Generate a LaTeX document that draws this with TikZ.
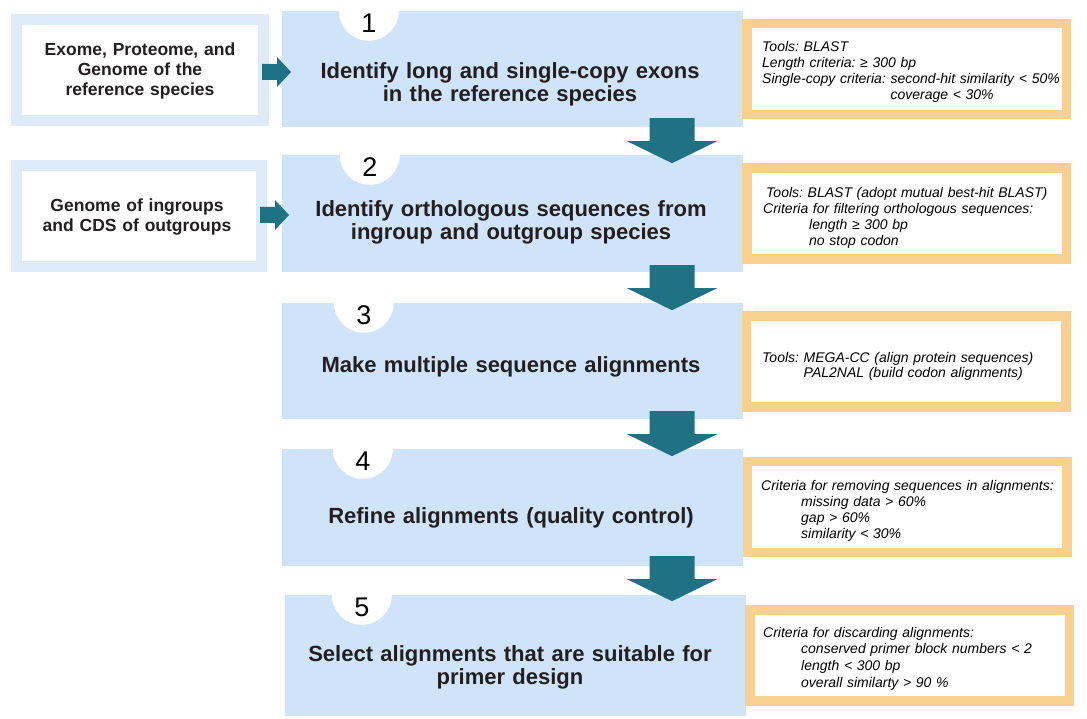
\documentclass[tikz,border=0pt]{standalone}
\usepackage{fontspec}
\setmainfont{Liberation Sans}
\usetikzlibrary{calc}
\frenchspacing
\definecolor{mainblue}{RGB}{207,228,248}
\definecolor{lightborder}{RGB}{222,235,248}
\definecolor{orangeb}{RGB}{248,208,143}
\definecolor{tealc}{RGB}{30,114,132}
\definecolor{txt}{RGB}{35,31,32}
\newcommand\dnarr[1]{\fill[tealc] (#1) ++(-22.5,0) -- ++(45,0) -- ++(0,23) -- ++(22.5,0) -- ++(-45,22) -- ++(-45,-22) -- ++(22.5,0) -- cycle;}
\newcommand\rtarr[1]{\fill[tealc] (#1) ++(0,-8) -- ++(15,0) -- ++(0,-7) -- ++(14,15) -- ++(-14,15) -- ++(0,-7) -- ++(-15,0) -- cycle;}
\begin{document}
\begin{tikzpicture}[x=1pt,y=-1pt,
  stepbox/.style={fill=mainblue, inner sep=0pt, minimum width=461pt, minimum height=#1},
  toolbox/.style={draw=orangeb, line width=9.5pt, fill=white, inner sep=0pt, minimum width=319.5pt, minimum height=91pt},
  srcbox/.style={draw=lightborder, line width=11pt, fill=white, inner sep=0pt, minimum width=#1, minimum height=101pt},
  steptext/.style={text=txt, font=\fontsize{22}{23}\selectfont\bfseries, text width=450pt, align=center, inner sep=0pt, anchor=base},
  numtext/.style={font=\fontsize{27}{30}\selectfont, inner sep=0pt, anchor=base, text=black},
  tooltext/.style={font=\fontsize{14}{#1}\selectfont\itshape, text width=320pt, align=left, inner sep=0pt, anchor=base west, text=black},
  srctext/.style={font=\fontsize{17.5}{20}\selectfont\bfseries, text width=240pt, align=center, inner sep=0pt, anchor=base, text=txt}
]
\fill[white] (0,0) rectangle (1087,719);
\useasboundingbox (0,0) rectangle (1087,719);

% main step boxes
\node[stepbox=116pt] (b1) at (512.5,69) {};
\node[stepbox=117pt] (b2) at (512.5,213.5) {};
\node[stepbox=116pt] (b3) at (512.5,361) {};
\node[stepbox=117pt] (b4) at (512.5,507.5) {};
\node[stepbox=121pt] (b5) at (515.5,655.5) {};

% number circles
\foreach \b/\dx in {b1/87,b2/88,b3/82,b4/81,b5/77}{
  \begin{scope}
    \clip (\b.north west) rectangle (\b.south east);
    \fill[white] ($(\b.north west)+(\dx,0)$) circle (30pt);
  \end{scope}
}
\node[numtext] (n1) at ($(b1.north west)+(87,22)$) {1};
\node[numtext] (n2) at ($(b2.north west)+(88,22)$) {2};
\node[numtext] (n3) at ($(b3.north west)+(82,22)$) {3};
\node[numtext] (n4) at ($(b4.north west)+(81,22)$) {4};
\node[numtext] (n5) at ($(b5.north west)+(77,22)$) {5};

% step texts
\node[steptext] (t1) at (510,79) {Identify long and single-copy exons\\in the reference species};
\node[steptext] (t2) at (511,217) {Identify orthologous sequences from\\ingroup and outgroup species};
\node[steptext] (t3) at (511,372) {Make multiple sequence alignments};
\node[steptext] (t4) at (511,523) {Refine alignments (quality control)};
\node[steptext] (t5) at (510,661) {Select alignments that are suitable for\\primer design};

% tool boxes
\node[toolbox] (r1) at (906.5,69) {};
\node[toolbox] (r2) at (906.5,213.5) {};
\node[toolbox] (r3) at (906,361.5) {};
\node[toolbox] (r4) at (907,507) {};
\node[toolbox] (r5) at (909.5,655.5) {};

\node[tooltext=16pt] (rt1) at (762,52) {Tools: BLAST\\Length criteria: ≥ 300 bp\\Single-copy criteria: second-hit similarity < 50\%\\\phantom{Single-copy criteria: }coverage < 30\%};
\node[tooltext=16pt] (rt2) at (763,198) {\hspace*{3pt}Tools: BLAST (adopt mutual best-hit BLAST)\\Criteria for filtering orthologous sequences:\\\hspace*{46pt}length ≥ 300 bp\\\hspace*{46pt}no stop codon};
\node[tooltext=16pt] (rt3) at (762,362) {Tools: MEGA-CC (align protein sequences)\\\phantom{Tools: }PAL2NAL (build codon alignments)};
\node[tooltext=16pt] (rt4) at (761,490) {Criteria for removing sequences in alignments:\\\hspace*{40pt}missing data > 60\%\\\hspace*{40pt}gap > 60\%\\\hspace*{40pt}similarity < 30\%};
\node[tooltext=16.7pt] (rt5) at (763,637) {Criteria for discarding alignments:\\\hspace*{38pt}conserved primer block numbers < 2\\\hspace*{38pt}length < 300 bp\\\hspace*{38pt}overall similarty > 90 \%};

% source boxes
\node[srcbox=247pt] (l1) at (140,70) {};
\node[srcbox=245pt] (l2) at (139,216) {};
\node[srctext] (lt1) at (140,56) {Exome, Proteome, and\\Genome of the\\reference species};
\node[srctext] (lt2) at (137,212) {Genome of ingroups\\and CDS of outgroups};

% connectors
\coordinate (a12) at ($(b1.south)+(159.5,-9)$);
\coordinate (a23) at ($(b2.south)+(159.5,-7)$);
\coordinate (a34) at ($(b3.south)+(159.5,-8)$);
\coordinate (a45) at ($(b4.south)+(159.5,-10)$);
\dnarr{a12}
\dnarr{a23}
\dnarr{a34}
\dnarr{a45}
\coordinate (al1) at ($(l1.east)+(-7,2)$);
\coordinate (al2) at ($(l2.east)+(-7,-1)$);
\rtarr{al1}
\rtarr{al2}
\end{tikzpicture}
\end{document}
